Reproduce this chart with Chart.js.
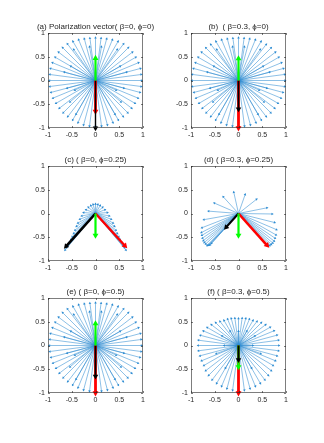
<!DOCTYPE html>
<html><head><meta charset="utf-8">
<script src="https://cdn.jsdelivr.net/npm/chart.js@4.4.1/dist/chart.umd.min.js"></script>
<style>
html,body{margin:0;padding:0;background:#fff;width:324px;height:443px;overflow:hidden;}
.p{position:absolute;width:162px;height:148px;}
</style></head><body>
<div class="p" style="left:0;top:0"><canvas id="ca"></canvas></div>
<div class="p" style="left:162px;top:0"><canvas id="cb"></canvas></div>
<div class="p" style="left:0;top:133px"><canvas id="cc"></canvas></div>
<div class="p" style="left:162px;top:133px"><canvas id="cd"></canvas></div>
<div class="p" style="left:0;top:265px"><canvas id="ce"></canvas></div>
<div class="p" style="left:162px;top:265px"><canvas id="cf"></canvas></div>
<script>
// ---------- data ----------
const tickValues = [-1, -0.5, 0, 0.5, 1];
const titles = [
  '(a) Polarization vector( \u03B2=0, \u03D5=0)',
  '(b)  ( \u03B2=0.3, \u03D5=0)',
  '(c) ( \u03B2=0, \u03D5=0.25)',
  '(d) ( \u03B2=0.3, \u03D5=0.25)',
  '(e) ( \u03B2=0, \u03D5=0.5)',
  '(f) ( \u03B2=0.3, \u03D5=0.5)'
];
// outer ring directions (degrees) of the blue arrows in panels a, b, e, f
const ringAng = [0,7.5,15,22.5,30,37.5,45,52.5,60,67.5,75,82.5,90,97.5,105,112.5,120,127.5,135,142.5,150,157.5,165,172.5,
                 180,187.5,195,202.5,210,217.5,225,232.5,240,247.5,255,262.5,270,277.5,285,292.5,300,307.5,315,322.5,330,337.5,345,352.5];
const ringLenA = [0.97,0.97,0.98,0.98,0.98,0.98,0.98,0.97,0.95,0.93,0.91,0.90,0.90,0.90,0.91,0.93,0.95,0.97,0.98,0.98,0.98,0.98,0.98,0.97,
                  0.97,0.97,0.97,0.97,0.96,0.96,0.96,0.96,0.96,0.96,0.97,0.97,0.97,0.97,0.97,0.96,0.96,0.96,0.96,0.96,0.96,0.97,0.97,0.97];
const ringLenB = [0.98,0.98,0.98,0.98,0.98,0.98,0.97,0.96,0.95,0.93,0.91,0.90,0.90,0.90,0.91,0.93,0.95,0.96,0.97,0.98,0.98,0.98,0.98,0.98,
                  0.98,0.98,0.97,0.97,0.96,0.96,0.96,0.96,0.96,0.96,0.97,0.97,0.97,0.97,0.97,0.96,0.96,0.96,0.96,0.96,0.96,0.97,0.97,0.98];
const ringLenE = [0.97,0.97,0.98,0.98,0.98,0.98,0.98,0.97,0.95,0.93,0.91,0.90,0.90,0.90,0.91,0.93,0.95,0.97,0.98,0.98,0.98,0.98,0.98,0.97,
                  0.97,0.97,0.97,0.97,0.96,0.96,0.96,0.96,0.96,0.96,0.97,0.97,0.97,0.97,0.97,0.96,0.96,0.96,0.96,0.96,0.96,0.97,0.97,0.97];
const ringLenF = [0.85,0.85,0.84,0.81,0.77,0.72,0.68,0.64,0.61,0.60,0.59,0.58,0.57,0.58,0.59,0.60,0.61,0.64,0.68,0.72,0.76,0.80,0.83,0.85,
                  0.85,0.85,0.84,0.84,0.84,0.87,0.89,0.91,0.92,0.93,0.94,0.95,0.95,0.95,0.94,0.93,0.92,0.91,0.89,0.87,0.84,0.84,0.84,0.85];
// shorter (out-of-plane) blue arrows
const innerAng = [165,195,15,345,220,320,125,55,240,300,150,30,205,335,100,80];
const innerLen = [0.68,0.62,0.68,0.62,0.70,0.70,0.80,0.80,0.82,0.82,0.60,0.60,0.48,0.48,0.72,0.72];
const innerAngF = [90,60,120,30,150,0,180,200,340,240,300,270];
const innerLenF = [0.30,0.35,0.35,0.40,0.40,0.30,0.30,0.50,0.50,0.55,0.55,0.25];
// panel c blue tips (x, y)
const tipsCx = [-0.64,-0.61,-0.58,-0.55,-0.52,-0.49,-0.46,-0.43,-0.40,-0.37,-0.33,-0.29,-0.25,-0.20,-0.15,-0.10,-0.05,0.00,
                 0.05,0.10,0.15,0.20,0.25,0.29,0.33,0.37,0.40,0.43,0.46,0.49,0.52,0.55,0.58,0.61,0.64];
const tipsCy = [-0.77,-0.72,-0.67,-0.61,-0.55,-0.49,-0.42,-0.35,-0.27,-0.20,-0.12,-0.05,0.02,0.08,0.13,0.17,0.19,0.20,
                 0.19,0.17,0.13,0.08,0.02,-0.05,-0.12,-0.20,-0.27,-0.35,-0.42,-0.49,-0.55,-0.61,-0.67,-0.72,-0.77];
// panel d blue tips (x, y)
const tipsDx = [-0.66,-0.64,-0.62,-0.60,-0.57,-0.69,-0.72,-0.74,-0.76,-0.77,-0.78,-0.77,-0.73,-0.63,-0.51,-0.32,-0.10,
                 0.14,0.38,0.60,0.71,0.76,0.80,0.79,0.77,0.75,0.72,0.69,0.66,0.63];
const tipsDy = [-0.67,-0.67,-0.66,-0.66,-0.63,-0.64,-0.61,-0.57,-0.52,-0.46,-0.40,-0.30,-0.13,0.05,0.22,0.35,0.45,
                 0.40,0.30,0.12,-0.01,-0.19,-0.34,-0.45,-0.52,-0.58,-0.62,-0.65,-0.67,-0.68];
// coloured vectors: tips (x, y) per panel a..f
const greenTips = [[0,0.47],[0,0.46],[0,-0.46],[0,-0.46],[0,0.46],[0,-0.45]];
const redTips   = [[0,-0.65],[0,-1.0],[0.62,-0.68],[0.60,-0.67],[0,-1.0],[0,-1.0]];
const blackTips = [[0,-1.0],[0,-0.60],[-0.62,-0.69],[-0.26,-0.29],[0,-0.65],[0,-0.30]];

// ---------- helpers ----------
const deg = Math.PI / 180;
function polarTips(ang, len){ return ang.map((a,i)=>({x: len[i]*Math.cos(a*deg), y: len[i]*Math.sin(a*deg)})); }
function xyTips(xs, ys){ return xs.map((x,i)=>({x: x, y: ys[i]})); }
function arrow(tip, color, width, head){
  const th = Math.atan2(tip.y, tip.x) / deg;
  return {
    data: [{x:0, y:0}, {x: tip.x, y: tip.y}],
    showLine: true, fill: false, tension: 0,
    borderColor: color, borderWidth: width,
    pointRadius: [0, head], pointHoverRadius: 0, pointHitRadius: 0,
    pointStyle: 'triangle', pointRotation: [0, 90 - th],
    pointBackgroundColor: color, pointBorderColor: color, pointBorderWidth: 0,
    clip: false
  };
}
const BLUE = 'rgb(45,140,210)';
function blueSet(tips){ return tips.map(t => arrow(t, BLUE, 0.55, 1.5)); }
function col(arr, i){ return {x: arr[i][0], y: arr[i][1]}; }

const panelBlue = [
  polarTips(ringAng, ringLenA).concat(polarTips(innerAng, innerLen)),
  polarTips(ringAng, ringLenB).concat(polarTips(innerAng, innerLen)),
  xyTips(tipsCx, tipsCy),
  xyTips(tipsDx, tipsDy),
  polarTips(ringAng, ringLenE).concat(polarTips(innerAng, innerLen)),
  polarTips(ringAng, ringLenF).concat(polarTips(innerAngF, innerLenF))
];
// drawing order of coloured arrows (bottom -> top)
const G='#00FF00', R='#FF0000', K='#000000';
function colourSet(i){
  const g = arrow(col(greenTips,i), G, 2.2, 3.4);
  const r = arrow(col(redTips,i), R, 2.2, 3.4);
  const k = arrow(col(blackTips,i), K, 2, 3.2);
  switch(i){
    case 0: r.borderWidth=2.8; k.borderWidth=1.4; k.pointRadius=[0,3.2]; return [r, k, g];
    case 1: r.borderWidth=2.8; k.borderWidth=1.8; return [r, k, g];
    case 2: k.borderWidth=2.6; r.borderWidth=2.4; return [k, r, g];
    case 3: r.borderWidth=2.6; return [k, r, g];
    case 4: r.borderWidth=2.8; k.borderWidth=1.8; return [r, k, g];
    default: r.borderWidth=2.8; g.borderWidth=2.4; return [r, g, k];
  }
}

const TXT = '#262626';
const tickFont = {family: '"Liberation Sans", Arial, sans-serif', size: 7};
const fmt = v => String(Math.round(v*10)/10);

const framePlugin = {
  id: 'frame',
  afterDraw(chart, args, opts){
    const {ctx, chartArea: a, scales} = chart;
    ctx.save();
    ctx.strokeStyle = 'rgba(38,38,38,0.6)';
    ctx.lineWidth = 1;
    ctx.strokeRect(Math.round(a.left)+0.5, Math.round(a.top)+0.5, Math.round(a.right-a.left)-1, Math.round(a.bottom-a.top)-1);
    ctx.beginPath();
    tickValues.forEach(v => {
      const px = Math.round(scales.x.getPixelForValue(v)) + 0.5;
      const py = Math.round(scales.y.getPixelForValue(v)) + 0.5;
      ctx.moveTo(px, a.bottom); ctx.lineTo(px, a.bottom-2);
      ctx.moveTo(px, a.top); ctx.lineTo(px, a.top+2);
      ctx.moveTo(a.left, py); ctx.lineTo(a.left+2, py);
      ctx.moveTo(a.right, py); ctx.lineTo(a.right-2, py);
    });
    ctx.stroke();
    ctx.fillStyle = TXT;
    ctx.font = '8px "Liberation Sans", Arial, sans-serif';
    ctx.textAlign = 'center';
    ctx.textBaseline = 'middle';
    ctx.fillText(opts.text, (a.left + a.right)/2, a.top - 6);
    ctx.restore();
  }
};

const ids = ['ca','cb','cc','cd','ce','cf'];
ids.forEach((id, i) => {
  const left = (i % 2 === 0) ? 22 : 3;
  const right = (i % 2 === 0) ? 19 : 38;
  // Chart.js paints dataset 0 last (on top), so list from top to bottom
  const datasets = blueSet(panelBlue[i]).concat(colourSet(i)).reverse();
  new Chart(document.getElementById(id), {
    type: 'scatter',
    data: { datasets: datasets },
    options: {
      responsive: true, maintainAspectRatio: false, animation: false,
      events: [],
      layout: { padding: {left: left, right: right, top: 33, bottom: 6} },
      plugins: { legend: {display: false}, tooltip: {enabled: false}, title: {display: false},
                 frame: { text: titles[i] } },
      scales: {
        x: { type: 'linear', min: -1, max: 1,
             ticks: { stepSize: 0.5, callback: fmt, font: tickFont, color: TXT, padding: 3, maxRotation: 0, autoSkip: false },
             grid: { display: false, drawTicks: false }, border: { display: false },
             afterFit(s){ s.height = 14; } },
        y: { type: 'linear', min: -1, max: 1,
             ticks: { stepSize: 0.5, callback: fmt, font: tickFont, color: TXT, padding: 3, autoSkip: false },
             grid: { display: false, drawTicks: false }, border: { display: false },
             afterFit(s){ s.width = 26; } }
      }
    },
    plugins: [framePlugin]
  });
});
</script>
</body></html>
